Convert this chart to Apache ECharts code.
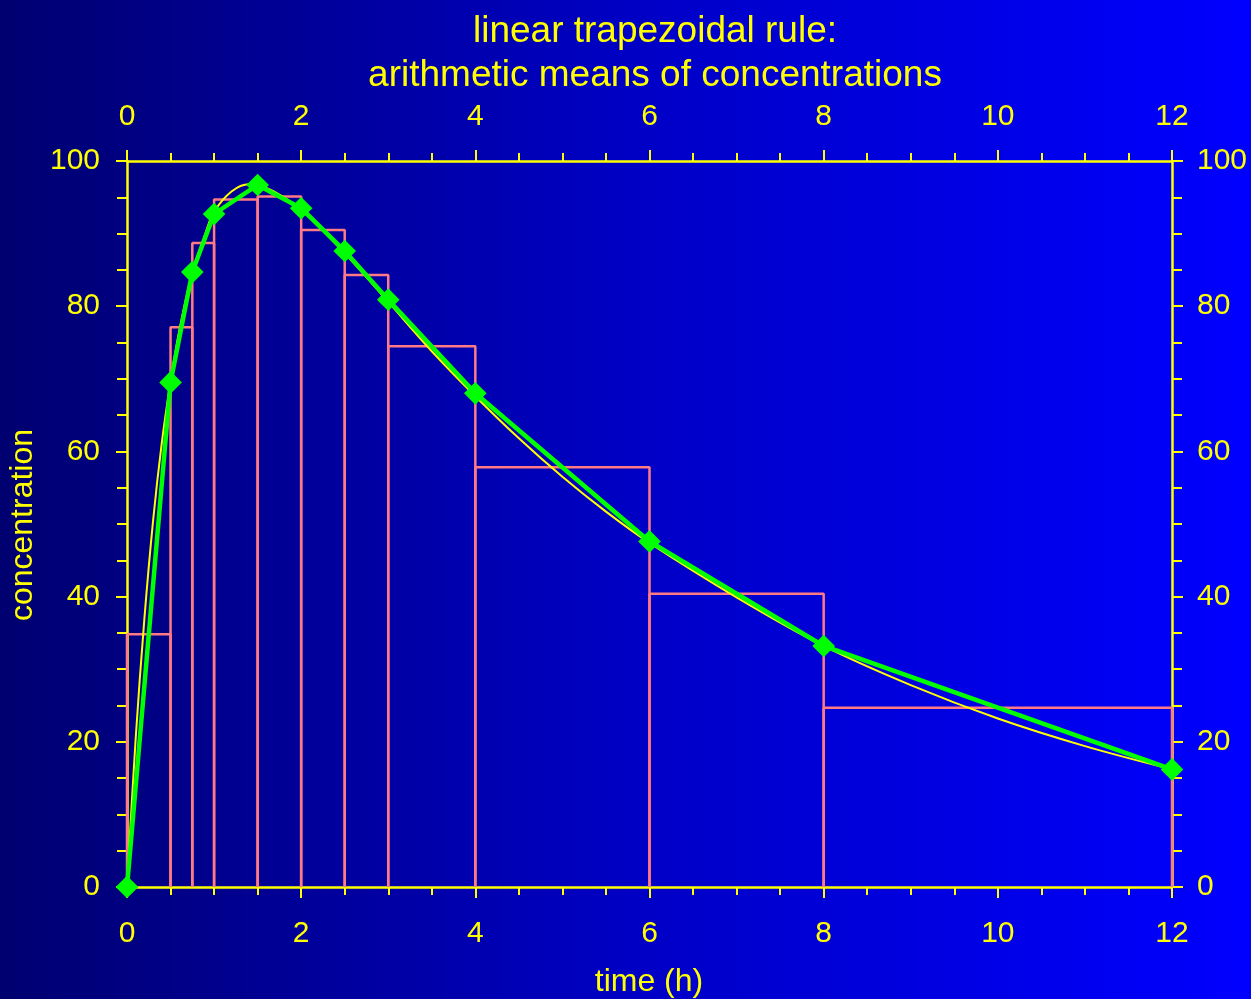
<!DOCTYPE html>
<html>
<head>
<meta charset="utf-8">
<title>linear trapezoidal rule</title>
<script src="https://cdn.jsdelivr.net/npm/echarts@6/dist/echarts.min.js"></script>
<style>
  html, body { margin: 0; padding: 0; width: 1251px; height: 999px; overflow: hidden; background: #0000c0; }
  #chart { width: 1251px; height: 999px; }
</style>
</head>
<body>
<div id="chart"></div>
<script>
// Sampling times (h) and measured concentrations
const sampleTimes = [0, 0.5, 0.75, 1, 1.5, 2, 2.5, 3, 4, 6, 8, 12];
const concentrations = [0, 69.5, 84.7, 92.7, 96.7, 93.5, 87.6, 80.9, 68.0, 47.6, 33.2, 16.2];

// Arithmetic mean concentration of each sampling interval (height of each rectangle)
const meanConcentrations = [34.8, 77.1, 88.7, 94.7, 95.1, 90.5, 84.3, 74.5, 57.8, 40.4, 24.7];

// Smooth concentration–time profile
const curveTimes = [0, 0.1, 0.2, 0.3, 0.4, 0.5, 0.6, 0.75, 0.9, 1.0, 1.2, 1.4, 1.6, 1.8, 2.0, 2.5, 3, 3.5, 4, 4.5, 5, 5.5, 6, 7, 8, 9, 10, 11, 12];
const curveConc = [0, 20.5, 37.0, 50.5, 61.2, 69.6, 76.6, 84.6, 90.0, 93.0, 95.8, 96.8, 96.3, 95.0, 93.3, 87.3, 80.6, 73.8, 67.6, 61.8, 56.5, 51.7, 47.4, 39.9, 33.2, 27.8, 23.2, 19.4, 16.2];

// Axis ticks
const timeTicks = [0, 2, 4, 6, 8, 10, 12];
const concTicks = [0, 20, 40, 60, 80, 100];

const YELLOW = '#ffff00';
const GREEN = '#00ff00';
const PINK = '#ff7a84';
const FONT = '"Liberation Sans", Arial, sans-serif';

const chart = echarts.init(document.getElementById('chart'), null, { renderer: 'canvas' });

function xAxisDef(position, margin) {
  return {
    type: 'value',
    position: position,
    min: timeTicks[0],
    max: timeTicks[timeTicks.length - 1],
    interval: timeTicks[1] - timeTicks[0],
    axisLine: { show: true, onZero: false, lineStyle: { color: YELLOW, width: 2.5 } },
    axisTick: { show: true, inside: false, length: 11, lineStyle: { color: YELLOW, width: 2 } },
    minorTick: { show: true, splitNumber: 4, length: 8, lineStyle: { color: YELLOW, width: 2 } },
    axisLabel: { color: YELLOW, fontSize: 30, fontFamily: FONT, margin: margin },
    splitLine: { show: false },
    minorSplitLine: { show: false }
  };
}

function yAxisDef(position, margin) {
  return {
    type: 'value',
    position: position,
    min: concTicks[0],
    max: concTicks[concTicks.length - 1],
    interval: concTicks[1] - concTicks[0],
    axisLine: { show: true, onZero: false, lineStyle: { color: YELLOW, width: 2.5 } },
    axisTick: { show: true, inside: false, length: 11, lineStyle: { color: YELLOW, width: 2 } },
    minorTick: { show: true, splitNumber: 4, length: 10, lineStyle: { color: YELLOW, width: 2 } },
    axisLabel: { color: YELLOW, fontSize: 30, fontFamily: FONT, margin: margin },
    splitLine: { show: false },
    minorSplitLine: { show: false }
  };
}

// One outlined rectangle per interval: [t_i, t_i+1] x [0, mean]
const rectSeries = meanConcentrations.map(function (m, i) {
  const t0 = sampleTimes[i];
  const t1 = sampleTimes[i + 1];
  return {
    type: 'line',
    xAxisIndex: 0,
    yAxisIndex: 0,
    data: [[t0, 0], [t0, m], [t1, m], [t1, 0]],
    showSymbol: false,
    symbol: 'none',
    silent: true,
    clip: false,
    z: 3,
    lineStyle: { color: PINK, width: 2.5 }
  };
});

const option = {
  animation: false,
  backgroundColor: {
    type: 'linear', x: 0, y: 0, x2: 1, y2: 0,
    colorStops: [
      { offset: 0, color: '#000070' },
      { offset: 0.5, color: '#0000c4' },
      { offset: 1, color: '#0000ff' }
    ]
  },
  title: {
    text: 'linear trapezoidal rule:\narithmetic means of concentrations',
    left: 650,
    top: 5,
    textAlign: 'center',
    textStyle: { color: YELLOW, fontSize: 37, fontWeight: 'normal', fontFamily: FONT, lineHeight: 44 }
  },
  grid: { left: 127, right: 79, top: 161, bottom: 112, containLabel: false },
  xAxis: [xAxisDef('bottom', 32), xAxisDef('top', 29)],
  yAxis: [yAxisDef('left', 27), yAxisDef('right', 25)],
  graphic: [
    {
      type: 'text',
      style: { text: 'time (h)', fill: YELLOW, font: '32px ' + FONT, textAlign: 'center', textVerticalAlign: 'middle' },
      x: 649,
      y: 982
    },
    {
      type: 'text',
      style: { text: 'concentration', fill: YELLOW, font: '32px ' + FONT, textAlign: 'center', textVerticalAlign: 'middle' },
      x: 23,
      y: 525,
      rotation: Math.PI / 2
    }
  ],
  series: rectSeries.concat([
    {
      name: 'profile',
      type: 'line',
      data: curveTimes.map(function (t, i) { return [t, curveConc[i]]; }),
      smooth: 0.35,
      showSymbol: false,
      symbol: 'none',
      clip: false,
      z: 4,
      lineStyle: { color: YELLOW, width: 2 }
    },
    {
      name: 'observed',
      type: 'line',
      data: sampleTimes.map(function (t, i) { return [t, concentrations[i]]; }),
      symbol: 'rect',
      symbolRotate: 45,
      symbolSize: 16,
      showAllSymbol: true,
      clip: false,
      z: 5,
      itemStyle: { color: GREEN },
      lineStyle: { color: GREEN, width: 4.5 }
    }
  ])
};

chart.setOption(option);
</script>
</body>
</html>
